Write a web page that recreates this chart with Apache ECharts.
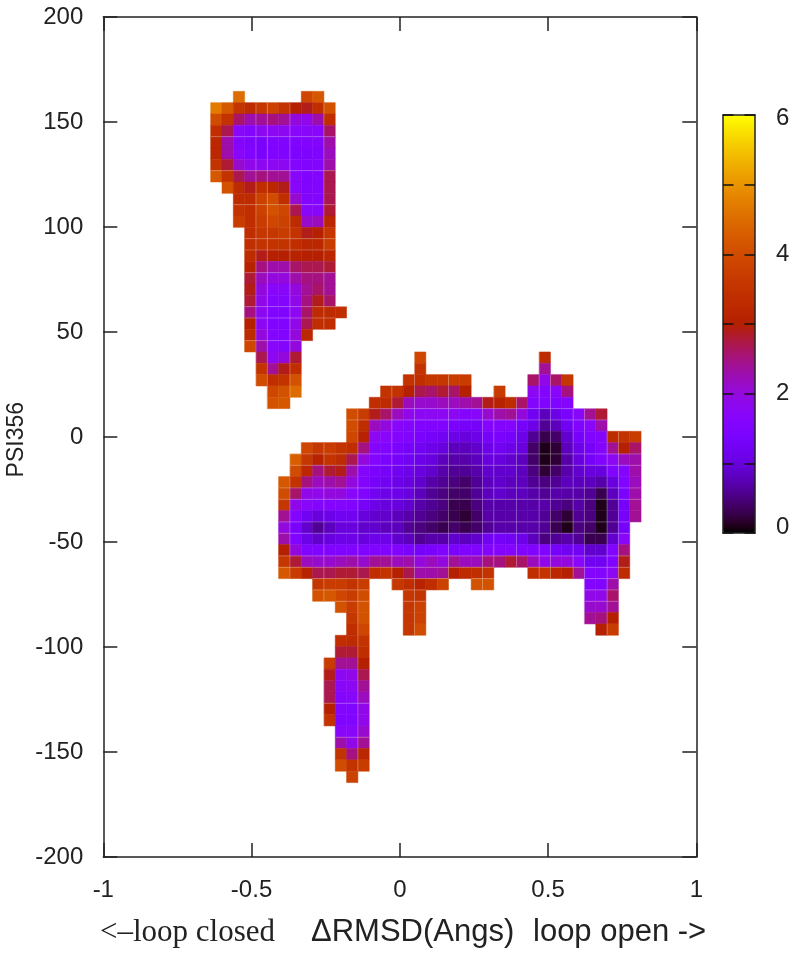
<!DOCTYPE html>
<html>
<head>
<meta charset="utf-8">
<script src="https://cdn.jsdelivr.net/npm/echarts@6/dist/echarts.min.js"></script>
<style>
  html, body { margin: 0; padding: 0; background: #fff; }
  #chart { width: 800px; height: 955px; }
</style>
</head>
<body>
<div id="chart"></div>
<script>
// histogram bins
const xStart = -0.6379;
const xStep = 0.0382;
const yStart = 164.6;
const yStep = 5.396;

const colorTicks = [0, 2, 4, 6];

// every segment is [row, first column, values...]
const closedLobe = [
  [0, 2, 4.5], [0, 8, 3.9, 4.2],
  [1, 0, 4.7, 4.2, 3.5, 3.3, 3.6, 3.8, 3.5, 3.0, 2.9, 3.4, 4.1],
  [2, 0, 4.0, 3.5, 2.6, 2.3, 2.4, 2.5, 2.4, 2.0, 1.9, 2.3, 3.4],
  [3, 0, 3.4, 2.7, 1.7, 1.6, 1.8, 1.8, 1.8, 1.7, 1.7, 1.7, 2.6],
  [4, 0, 3.2, 2.3, 1.6, 1.45, 1.4, 1.5, 1.5, 1.5, 1.5, 1.6, 2.3],
  [5, 0, 3.2, 2.3, 1.7, 1.5, 1.4, 1.5, 1.5, 1.45, 1.45, 1.5, 2.2],
  [6, 0, 3.5, 2.8, 2.1, 1.9, 1.8, 1.8, 1.8, 1.6, 1.5, 1.6, 2.3],
  [7, 0, 4.2, 3.5, 2.7, 2.4, 2.5, 2.4, 2.4, 1.7, 1.5, 1.6, 2.7],
  [8, 1, 4.1, 3.3, 2.9, 3.4, 3.2, 2.9, 1.7, 1.5, 1.6, 2.7],
  [9, 2, 3.3, 3.3, 3.8, 4.0, 3.4, 2.1, 1.6, 1.6, 2.7],
  [10, 2, 3.5, 3.4, 3.8, 4.1, 3.9, 2.7, 1.7, 1.7, 2.8],
  [11, 2, 3.7, 3.4, 3.7, 3.9, 3.8, 3.3, 2.1, 2.2, 3.2],
  [12, 3, 3.4, 3.6, 3.6, 3.7, 3.5, 2.9, 3.0, 3.6],
  [13, 3, 3.4, 3.5, 3.5, 3.5, 3.4, 3.2, 3.2, 3.7],
  [14, 3, 3.3, 2.9, 3.0, 3.0, 3.1, 3.0, 3.0, 3.2],
  [15, 3, 3.1, 2.5, 2.3, 2.3, 2.6, 2.7, 2.7, 2.8],
  [16, 3, 2.8, 2.2, 2.0, 2.0, 2.3, 2.5, 2.5, 2.4],
  [17, 3, 2.9, 2.0, 1.7, 1.7, 2.0, 2.4, 2.6, 2.4],
  [18, 3, 2.8, 1.9, 1.6, 1.6, 1.9, 2.5, 2.9, 2.6],
  [19, 3, 2.5, 1.8, 1.5, 1.5, 1.8, 2.6, 3.3, 3.3, 3.4],
  [20, 3, 3.0, 1.8, 1.5, 1.5, 1.9, 2.7, 3.4, 3.4],
  [21, 3, 3.3, 2.0, 1.6, 1.5, 2.0, 3.2],
  [22, 3, 3.9, 2.3, 1.7, 1.6, 2.0],
  [23, 4, 2.7, 1.8, 2.0, 2.8],
  [24, 4, 3.5, 2.4, 2.9, 3.4],
  [25, 4, 4.0, 3.4, 3.5, 4.1],
  [26, 5, 3.9, 4.1, 4.5],
  [27, 5, 4.1, 4.2]
];

const openBasin = [
  [23, 18, 3.9], [23, 29, 3.3],
  [24, 18, 3.5], [24, 29, 2.4],
  [25, 17, 3.5, 3.4, 3.6, 3.6, 3.7, 3.7], [25, 28, 2.6, 1.9, 2.6, 3.6],
  [26, 15, 3.5, 3.5, 3.0, 2.7, 2.6, 2.8, 2.6, 3.0], [26, 25, 3.7], [26, 28, 1.8, 1.6, 1.7, 2.5],
  [27, 14, 3.4, 3.3, 2.8, 2.2, 2.1, 2.1, 2.2, 2.2, 2.3, 2.4, 2.9, 3.1, 3.3, 2.6, 1.6, 1.5, 1.5, 1.6],
  [28, 12, 4.0, 3.7, 2.9, 2.6, 2.2, 1.9, 1.8, 1.8, 1.8, 1.8, 1.6, 1.7, 2.1, 2.3, 2.4, 2.0, 1.2, 0.8, 1.1, 1.4, 1.7, 2.4, 2.8],
  [29, 12, 4.0, 3.4, 2.2, 2.0, 1.7, 1.6, 1.5, 1.5, 1.5, 1.4, 1.3, 1.3, 1.6, 1.6, 1.6, 1.3, 1.1, 0.6, 0.8, 1.2, 1.5, 1.7, 2.3],
  [30, 12, 3.9, 3.1, 1.8, 1.7, 1.6, 1.5, 1.4, 1.3, 1.2, 1.1, 1.0, 1.1, 1.3, 1.4, 1.3, 1.1, 0.6, 0.3, 0.4, 0.9, 1.3, 1.5, 1.6, 3.3, 3.5, 3.7],
  [31, 8, 3.9, 3.6, 3.7, 3.5, 3.4, 2.5, 1.6, 1.5, 1.4, 1.3, 1.2, 1.1, 1.0, 0.8, 0.8, 0.9, 1.1, 1.2, 1.1, 1.0, 0.4, 0.1, 0.2, 0.8, 1.1, 1.3, 1.6, 2.4, 3.0, 2.6],
  [32, 7, 4.3, 3.6, 3.1, 3.5, 3.3, 2.7, 2.0, 1.6, 1.4, 1.3, 1.2, 1.1, 1.0, 0.8, 0.7, 0.7, 0.8, 1.0, 1.0, 0.9, 0.8, 0.4, 0.1, 0.2, 0.7, 1.0, 1.3, 1.5, 1.8, 2.2, 2.3],
  [33, 7, 4.0, 3.2, 2.5, 2.8, 2.9, 2.3, 1.6, 1.4, 1.3, 1.2, 1.1, 1.0, 0.9, 0.7, 0.6, 0.6, 0.7, 0.9, 0.9, 0.9, 0.8, 0.5, 0.2, 0.4, 0.7, 0.9, 1.0, 1.0, 1.5, 1.6, 2.3],
  [34, 6, 4.2, 3.5, 2.5, 2.2, 2.3, 2.4, 2.0, 1.6, 1.3, 1.2, 1.1, 1.0, 0.9, 0.7, 0.6, 0.5, 0.4, 0.6, 0.8, 0.9, 0.8, 0.8, 0.6, 0.5, 0.6, 0.8, 0.8, 0.8, 0.7, 1.0, 1.5, 2.2],
  [35, 6, 4.0, 2.6, 1.9, 1.9, 2.0, 2.0, 1.7, 1.5, 1.2, 1.1, 1.1, 1.0, 0.8, 0.6, 0.5, 0.4, 0.4, 0.6, 0.8, 0.9, 0.8, 0.8, 0.7, 0.6, 0.7, 0.7, 0.7, 0.6, 0.3, 0.8, 1.4, 2.3],
  [36, 6, 3.6, 1.9, 1.7, 1.6, 1.6, 1.6, 1.5, 1.3, 1.1, 1.0, 1.0, 0.9, 0.7, 0.6, 0.5, 0.3, 0.3, 0.5, 0.7, 0.7, 0.7, 0.7, 0.7, 0.7, 0.6, 0.5, 0.7, 0.5, 0.1, 0.6, 1.3, 2.4],
  [37, 6, 2.4, 1.6, 1.2, 1.0, 1.1, 1.2, 1.2, 1.0, 0.9, 0.9, 0.8, 0.7, 0.6, 0.5, 0.4, 0.3, 0.2, 0.4, 0.7, 0.7, 0.7, 0.7, 0.7, 0.6, 0.4, 0.2, 0.6, 0.5, 0.1, 0.6, 1.3, 2.4],
  [38, 6, 2.0, 1.4, 0.9, 0.6, 0.8, 1.0, 1.0, 0.9, 0.9, 0.8, 0.8, 0.6, 0.5, 0.4, 0.3, 0.4, 0.3, 0.4, 0.6, 0.7, 0.7, 0.7, 0.7, 0.6, 0.3, 0.1, 0.5, 0.4, 0.1, 0.6, 1.3],
  [39, 6, 2.3, 1.5, 1.1, 0.9, 1.0, 1.1, 1.1, 1.0, 1.1, 1.1, 0.9, 0.8, 0.6, 0.7, 0.7, 0.9, 0.8, 0.9, 1.2, 1.3, 1.2, 1.1, 0.8, 0.5, 0.6, 0.7, 0.6, 0.3, 0.3, 0.9, 1.7],
  [40, 6, 3.0, 2.0, 1.5, 1.5, 1.5, 1.5, 1.5, 1.5, 1.5, 1.5, 1.5, 1.4, 1.3, 1.4, 1.5, 1.4, 1.5, 1.5, 1.6, 1.6, 1.6, 1.5, 1.5, 1.5, 1.3, 1.2, 1.2, 0.9, 0.9, 1.5, 2.5],
  [41, 6, 3.6, 2.8, 2.2, 2.1, 2.1, 2.2, 2.3, 2.1, 2.4, 2.4, 2.2, 2.3, 2.0, 2.2, 2.0, 2.4, 2.2, 2.2, 2.5, 2.5, 2.8, 2.6, 2.2, 1.9, 2.0, 2.0, 1.7, 1.2, 1.2, 1.5, 2.9],
  [42, 6, 4.2, 3.7, 3.1, 2.7, 2.7, 2.8, 2.8, 2.7, 3.4, 3.5, 3.0, 2.7, 2.3, 2.3, 2.4, 3.0, 3.3, 3.4, 3.5], [42, 28, 3.4, 3.5, 3.2, 3.0, 2.4, 1.6, 1.6, 1.8, 3.3],
  [43, 16, 3.6, 3.4, 3.1, 3.4, 3.8], [43, 23, 4.1, 4.1], [43, 33, 1.6, 1.5, 2.3],
  [44, 17, 3.6, 3.5], [44, 33, 1.9, 1.9, 2.6],
  [45, 17, 3.6, 3.8], [45, 33, 2.1, 2.1, 2.4],
  [46, 17, 3.6, 3.8], [46, 33, 2.4, 2.5, 3.0],
  [47, 17, 3.6, 4.0], [47, 34, 3.0, 3.7]
];

const lowerTail = [
  [43, 9, 3.6, 3.7, 3.7, 3.5, 3.7],
  [44, 9, 4.1, 4.2, 3.9, 3.7, 4.0],
  [45, 11, 4.1, 3.7, 4.1],
  [46, 12, 3.6, 4.1],
  [47, 12, 3.4, 3.9],
  [48, 11, 3.4, 3.3, 3.5],
  [49, 11, 2.8, 2.8, 3.4],
  [50, 10, 3.7, 2.4, 2.4, 3.0],
  [51, 10, 2.9, 1.8, 1.9, 2.7],
  [52, 10, 2.7, 1.7, 1.8, 2.4],
  [53, 10, 2.7, 1.6, 1.7, 2.2],
  [54, 10, 3.0, 1.6, 1.5, 1.9],
  [55, 10, 3.5, 1.5, 1.5, 1.9],
  [56, 11, 1.7, 1.7, 2.1],
  [57, 11, 2.3, 1.9, 2.4],
  [58, 11, 3.5, 2.5, 3.2],
  [59, 11, 4.0, 3.5, 3.7],
  [60, 12, 3.8]
];

// pale seams left in the printed surface
const seamCols = [4, 5, 7, 10, 13, 16, 18, 21, 24, 25, 27, 29, 30, 32, 33, 35, 36];
const seamRows = [4, 7, 10, 13, 14, 16, 19, 20, 22, 28, 29, 32, 33, 35, 36, 38, 39, 41, 42, 43, 44, 45, 54, 57];

var cells = [];
closedLobe.concat(openBasin, lowerTail).forEach((seg) => {
  const row = seg[0];
  const col = seg[1];
  seg.slice(2).forEach((v, i) => {
    const c = col + i;
    cells.push([
      xStart + (c + 0.5) * xStep,
      yStart - (row + 0.5) * yStep,
      v,
      seamCols.indexOf(c) >= 0 ? 1 : 0,
      seamRows.indexOf(row) >= 0 ? 1 : 0,
    ]);
  });
});

// gnuplot rgbformulae 7,5,15
function pm3dColor(t) {
  const r = Math.round(255 * Math.sqrt(t));
  const g = Math.round(255 * t * t * t);
  const b = Math.round(255 * Math.max(0, Math.sin(2 * Math.PI * t)));
  return "rgb(" + r + "," + g + "," + b + ")";
}
var palette = [];
for (let i = 0; i <= 48; i++) palette.push(pm3dColor(i / 48));

function renderCell(params, api) {
  const a = api.coord([api.value(0) - xStep / 2, api.value(1) + yStep / 2]);
  const b = api.coord([api.value(0) + xStep / 2, api.value(1) - yStep / 2]);
  const color = api.visual("color");
  const children = [
    {
      type: "rect",
      shape: { x: a[0], y: a[1], width: b[0] - a[0], height: b[1] - a[1] },
      style: { fill: color, stroke: color, lineWidth: 0.5 },
    },
  ];
  const seam = { stroke: "rgba(255,255,255,0.28)", lineWidth: 1 };
  if (api.value(3)) {
    children.push({ type: "line", shape: { x1: a[0], y1: a[1], x2: a[0], y2: b[1] }, style: seam, z2: 2 });
  }
  if (api.value(4)) {
    children.push({ type: "line", shape: { x1: a[0], y1: a[1], x2: b[0], y2: a[1] }, style: seam, z2: 2 });
  }
  return { type: "group", children: children };
}

const labelFont = { color: "#222", fontSize: 24, fontFamily: "Liberation Sans" };
const frameLine = { show: true, onZero: false, lineStyle: { color: "#222", width: 1.5 } };
const innerTick = { show: true, inside: true, length: 14, lineStyle: { color: "#222", width: 1.5 } };
const barTick = { show: true, inside: true, length: 10.5, lineStyle: { color: "#111", width: 1.5 } };

// the end labels of the colour bar sit a little inside it
function colorLabel(v) {
  if (colorTicks.indexOf(v) < 0) return "";
  if (v === 6) return "{maxEnd|6}";
  if (v === 0) return "{minEnd|0}";
  return String(v);
}

var chart = echarts.init(document.getElementById("chart"));
chart.setOption({
  animation: false,
  backgroundColor: "#fff",
  grid: [
    { left: 103.3, top: 17, width: 593, height: 840, containLabel: false },
    { left: 723, top: 115, width: 32, height: 418, containLabel: false },
  ],
  xAxis: [
    {
      type: "value", gridIndex: 0, min: -1, max: 1, interval: 0.5,
      axisLine: frameLine, axisTick: innerTick, splitLine: { show: false },
      axisLabel: { ...labelFont, margin: 21 },
    },
    {
      type: "value", gridIndex: 0, position: "top", min: -1, max: 1, interval: 0.5,
      axisLine: frameLine, axisTick: innerTick, splitLine: { show: false },
      axisLabel: { show: false },
    },
    {
      type: "value", gridIndex: 1, position: "bottom", min: 0, max: 1,
      axisLine: frameLine, axisTick: { show: false }, splitLine: { show: false },
      axisLabel: { show: false }, z: 10,
    },
    {
      type: "value", gridIndex: 1, position: "top", min: 0, max: 1,
      axisLine: frameLine, axisTick: { show: false }, splitLine: { show: false },
      axisLabel: { show: false }, z: 10,
    },
  ],
  yAxis: [
    {
      type: "value", gridIndex: 0, min: -200, max: 200, interval: 50,
      axisLine: frameLine, axisTick: innerTick, splitLine: { show: false },
      axisLabel: { ...labelFont, margin: 20 },
    },
    {
      type: "value", gridIndex: 0, position: "right", min: -200, max: 200, interval: 50,
      axisLine: frameLine, axisTick: innerTick, splitLine: { show: false },
      axisLabel: { show: false },
    },
    {
      type: "value", gridIndex: 1, position: "right", min: 0, max: 6, interval: 1,
      axisLine: frameLine, axisTick: barTick,
      splitLine: { show: false }, z: 10,
      axisLabel: {
        ...labelFont, margin: 21,
        formatter: colorLabel,
        rich: {
          maxEnd: { ...labelFont, padding: [6, 0, 0, 0] },
          minEnd: { ...labelFont, padding: [0, 0, 12, 0] },
        },
      },
    },
    {
      type: "value", gridIndex: 1, position: "left", min: 0, max: 6, interval: 1,
      axisLine: frameLine, axisTick: barTick,
      splitLine: { show: false }, axisLabel: { show: false }, z: 10,
    },
  ],
  visualMap: {
    type: "continuous",
    min: 0,
    max: 6,
    dimension: 2,
    seriesIndex: 0,
    calculable: false,
    left: 723,
    top: 115,
    padding: 0,
    itemWidth: 32,
    itemHeight: 418,
    inRange: { color: palette },
    z: 1,
  },
  series: [
    {
      type: "custom",
      coordinateSystem: "cartesian2d",
      xAxisIndex: 0,
      yAxisIndex: 0,
      silent: true,
      renderItem: renderCell,
      encode: { x: 0, y: 1 },
      data: cells,
    },
  ],
  graphic: [
    {
      type: "text", left: 5, top: 402, rotation: Math.PI / 2,
      style: { text: "PSI356", fill: "#222", font: "23px Liberation Sans", textAlign: "center", textVerticalAlign: "middle" },
    },
    {
      type: "text", left: 100, top: 917,
      style: { text: "<–loop closed", fill: "#222", font: "31px Liberation Serif" },
    },
    {
      type: "text", left: 311, top: 917,
      style: { text: "ΔRMSD(Angs)", fill: "#222", font: "31px Liberation Sans" },
    },
    {
      type: "text", left: 533, top: 917,
      style: { text: "loop open ->", fill: "#222", font: "31px Liberation Sans" },
    },
  ],
});
</script>
</body>
</html>
